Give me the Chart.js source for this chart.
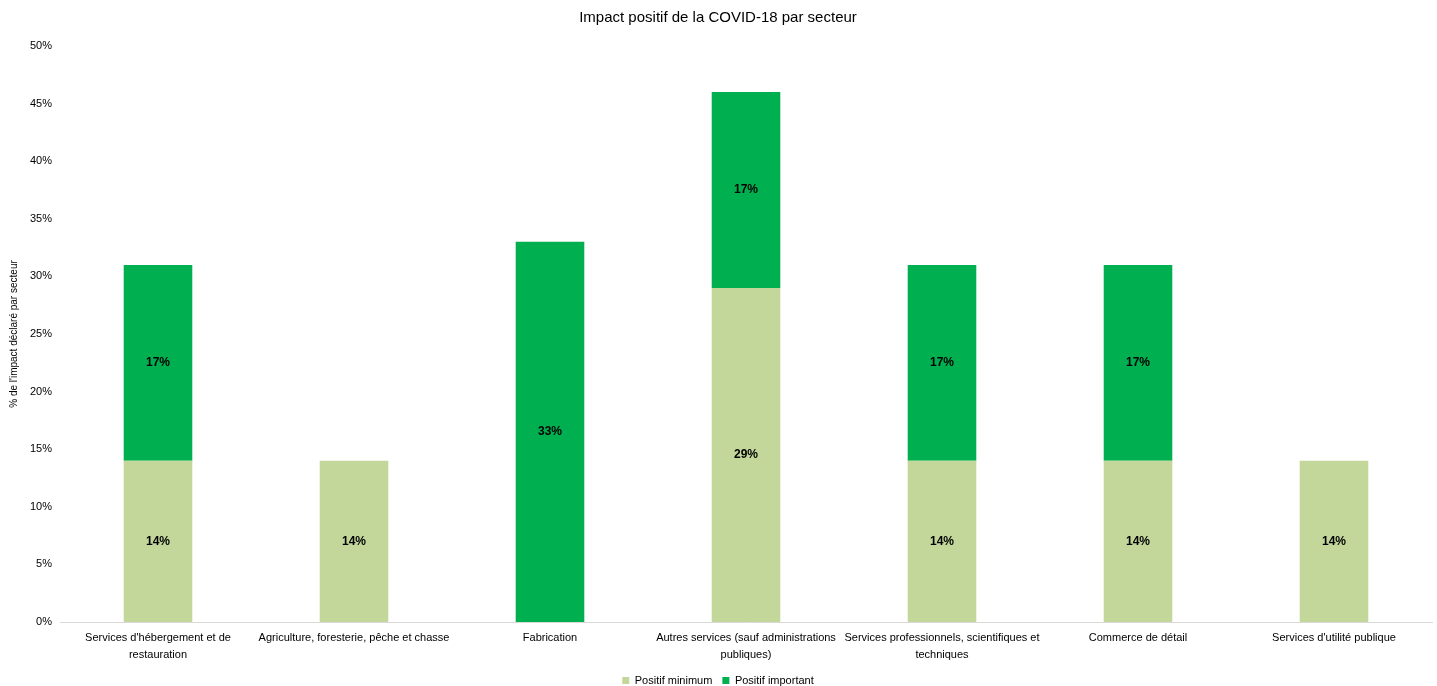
<!DOCTYPE html>
<html><head><meta charset="utf-8">
<script src="https://cdn.jsdelivr.net/npm/chart.js@4/dist/chart.umd.min.js"></script>
<style>html,body{margin:0;padding:0;background:#fff}#wrap{width:1437px;height:686px}</style>
</head><body><div id="wrap"><canvas id="c" width="1437" height="686"></canvas></div>
<script>
const categories = [
  ["Services d'hébergement et de", "restauration"],
  "Agriculture, foresterie, pêche et chasse",
  "Fabrication",
  ["Autres services (sauf administrations", "publiques)"],
  ["Services professionnels, scientifiques et", "techniques"],
  "Commerce de détail",
  "Services d'utilité publique"
];
const positifMinimum = [14, 14, 0, 29, 14, 14, 14];
const positifImportant = [17, 0, 33, 17, 17, 17, 0];
const seriesNames = ["Positif minimum", "Positif important"];
const titleText = "Impact positif de la COVID-18 par secteur";
const yTitle = "% de l'impact déclaré par secteur";

const FONT = "'Liberation Sans Narrow', 'Arial Narrow', 'Liberation Sans', Arial, sans-serif";

const labelPlugin = {
  id: 'barLabels',
  afterDatasetsDraw(chart) {
    const ctx = chart.ctx;
    ctx.save();
    ctx.font = "bold 12px " + FONT;
    ctx.fillStyle = '#000';
    ctx.textAlign = 'center';
    ctx.textBaseline = 'middle';
    chart.data.datasets.forEach((ds, i) => {
      const meta = chart.getDatasetMeta(i);
      meta.data.forEach((el, j) => {
        const v = ds.data[j];
        if (!v) return;
        ctx.fillText(v + '%', el.x, (el.y + el.base) / 2);
      });
    });
    ctx.restore();
  }
};

new Chart(document.getElementById('c'), {
  type: 'bar',
  data: {
    labels: categories,
    datasets: [
      { label: seriesNames[0], data: positifMinimum, backgroundColor: '#C4D79B', barPercentage: 0.35, categoryPercentage: 1 },
      { label: seriesNames[1], data: positifImportant, backgroundColor: '#00B050', barPercentage: 0.35, categoryPercentage: 1 }
    ]
  },
  options: {
    responsive: false,
    animation: false,
    layout: { padding: { left: 4, right: 5, top: 0, bottom: -10 } },
    plugins: {
      title: { display: true, text: titleText, color: '#000', font: { family: FONT, size: 15, weight: 'normal' }, padding: { top: 9, bottom: 19 } },
      legend: {
        position: 'bottom',
        labels: { color: '#000', boxWidth: 7, boxHeight: 7, font: { family: FONT, size: 11 }, padding: 10 }
      },
      tooltip: { enabled: false }
    },
    scales: {
      x: {
        stacked: true,
        grid: { display: false, drawTicks: false },
        border: { display: true, color: '#d9d9d9' },
        ticks: { color: '#000', font: { family: FONT, size: 11, lineHeight: 1.5 }, padding: 8, maxRotation: 0, autoSkip: false },
        afterFit(scale) { scale.height = 43; }
      },
      y: {
        stacked: true,
        min: 0, max: 50,
        grid: { display: false, drawTicks: false },
        border: { display: false },
        ticks: { stepSize: 5, color: '#000', font: { family: FONT, size: 11 }, padding: 8, callback: v => v + '%' },
        title: { display: true, text: yTitle, color: '#000', font: { family: "'Liberation Sans', Arial, sans-serif", size: 10 }, padding: { bottom: 8 } },
        afterFit(scale) { scale.width = 56; }
      }
    }
  },
  plugins: [labelPlugin]
});
</script></body></html>
